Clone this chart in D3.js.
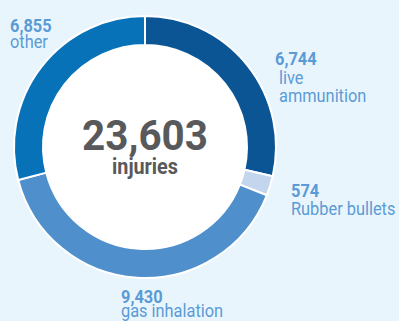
<!DOCTYPE html>
<html>
<head>
<meta charset="utf-8">
<script src="https://cdn.jsdelivr.net/npm/d3@7"></script>
<style>
  html, body { margin: 0; padding: 0; background: #e9f5fd; }
  svg { display: block; }
  text { font-family: "Roboto", sans-serif; }
</style>
</head>
<body>
<svg id="chart" width="399" height="321"></svg>
<script>
// Injury counts by cause
const categories = ["live ammunition", "Rubber bullets", "gas inhalation", "other"];
const injuries = [6744, 574, 9430, 6855];
const colors = ["#0b5594", "#c4d6ee", "#4f90cc", "#0872b8"];
const totalLabel = "injuries";

const width = 399, height = 321;
const cx = 145, cy = 147;
const outerR = 131, innerR = 102;

const svg = d3.select("#chart");
svg.append("rect").attr("width", width).attr("height", height).attr("fill", "#e9f5fd");

const g = svg.append("g").attr("transform", `translate(${cx},${cy})`);

const data = categories.map((c, i) => ({ name: c, value: injuries[i], color: colors[i] }));
const pie = d3.pie().value(d => d.value).sort(null);
const arc = d3.arc().innerRadius(innerR).outerRadius(outerR);

const arcs = pie(data);

// white disc in the middle
g.append("circle").attr("r", innerR).attr("fill", "#ffffff");

g.selectAll("path.slice")
  .data(arcs)
  .join("path")
  .attr("class", "slice")
  .attr("d", arc)
  .attr("fill", d => d.data.color)
  .attr("stroke", "#ffffff")
  .attr("stroke-width", 2);

// total in the centre
const total = d3.sum(injuries);
const fmt = d3.format(",");

function condensedText(parent, x, y, str, size, weight, fill, sx) {
  return parent.append("text")
    .attr("transform", `translate(${x},${y}) scale(${sx},1)`)
    .attr("font-size", size)
    .attr("font-weight", weight)
    .attr("fill", fill)
    .text(str);
}

condensedText(g, 0, 3, fmt(total), 43, 700, "#58595b", 0.94).attr("text-anchor", "middle");
condensedText(g, 0, 27, totalLabel, 22, 700, "#58595b", 0.9).attr("text-anchor", "middle");

// slice labels: value (bold) with category name lines below
const labelColor = "#5b9bd5";
const labelPos = [
  { x: 275, y: 65, lines: ["live", "ammunition"], indent: 4, gap: 18.5 },
  { x: 291, y: 197, lines: ["Rubber bullets"], indent: 0, gap: 18 },
  { x: 121, y: 303, lines: ["gas inhalation"], indent: 0, gap: 13.5 },
  { x: 10, y: 32, lines: ["other"], indent: 0, gap: 16 }
];

labelPos.forEach((p, i) => {
  condensedText(svg, p.x, p.y, fmt(injuries[i]), 18, 700, labelColor, 0.91);
  p.lines.forEach((ln, j) => {
    condensedText(svg, p.x + p.indent, p.y + p.gap * (j + 1), ln, 18, 400, labelColor, 0.91);
  });
});
</script>
</body>
</html>
